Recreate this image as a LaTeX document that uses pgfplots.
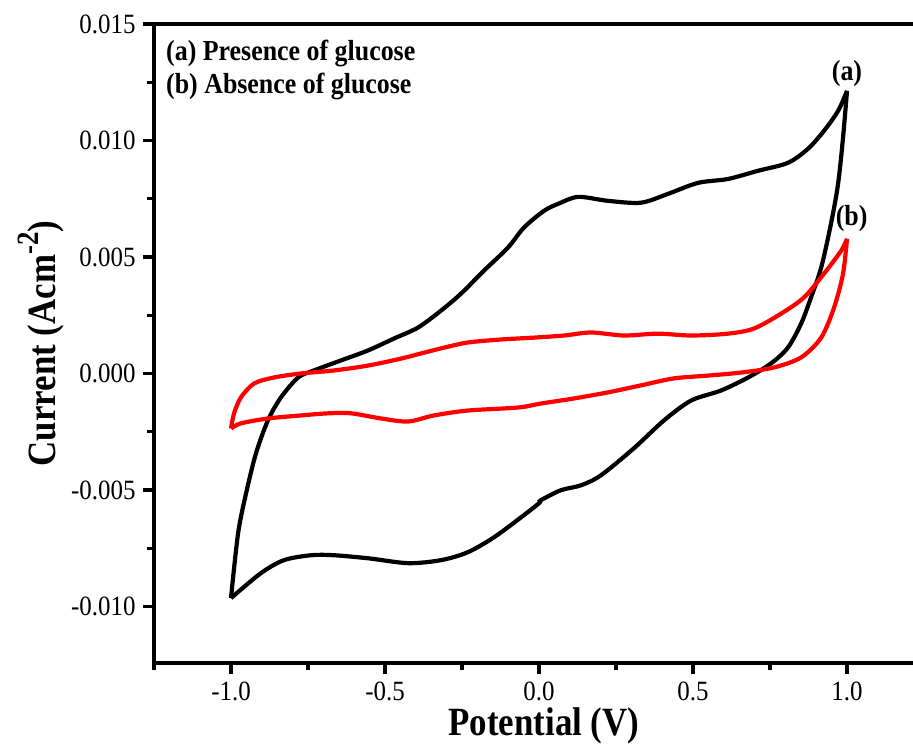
\documentclass[border=0pt]{standalone}
\usepackage{fontspec}
\setmainfont{Liberation Serif}
\usepackage{graphicx}
\usepackage{pgfplots}
\pgfplotsset{compat=1.18}
\newcommand{\tl}[1]{\scalebox{1}[1.12]{#1}}

\begin{document}
\begin{tikzpicture}
\begin{axis}[
  name=ax,
  scale only axis, width=760bp, height=639bp,
  xmin=-1.25, xmax=1.2175, ymin=-0.012425, ymax=0.015,
  axis x line*=bottom, axis y line*=left,
  axis line style={line width=4bp, line cap=rect},
  tick align=outside,
  major tick length=11bp, minor tick length=7bp,
  tick style={black, line width=3.2bp},
  xtick={-1,-0.5,0,0.5,1},
  xticklabels={\tl{-1.0},\tl{-0.5},\tl{0.0},\tl{0.5},\tl{1.0}},
  minor xtick={-1.25,-0.75,-0.25,0.25,0.75},
  ytick={-0.010,-0.005,0,0.005,0.010,0.015},
  yticklabels={\tl{-0.010},\tl{-0.005},\tl{0.000},\tl{0.005},\tl{0.010},\tl{0.015}},
  minor ytick={-0.0075,-0.0025,0.0025,0.0075,0.0125},
  scaled ticks=false,
  tick label style={font=\fontsize{25}{30}\selectfont},
  yticklabel style={xshift=-4bp},
  xticklabel style={yshift=-4bp},
  xlabel={\scalebox{1}[1.15]{\textbf{Potential (V)}}},
  ylabel={\scalebox{1}[1.15]{\textbf{Current (Acm\raisebox{0.42em}{\fontsize{27}{30}\selectfont -2})}}},
  xlabel style={xshift=10bp},
  label style={font=\fontsize{35}{40}\selectfont},
  clip=false,
]
% (a) presence of glucose: forward sweep
\addplot[black, line width=4.2bp, smooth] coordinates {
(-1.000,-0.00964) (-0.977,-0.00686) (-0.951,-0.00514) (-0.919,-0.00343)
(-0.880,-0.00201) (-0.838,-0.00103) (-0.782,-0.00017) (-0.731,0.00013)
(-0.643,0.00056) (-0.555,0.00099) (-0.471,0.00150) (-0.393,0.00197)
(-0.318,0.00270) (-0.253,0.00343) (-0.179,0.00441) (-0.101,0.00540)
(-0.049,0.00626) (0.016,0.00698) (0.062,0.00728) (0.127,0.00758)
(0.224,0.00741) (0.331,0.00733) (0.419,0.00771) (0.516,0.00818)
(0.614,0.00835) (0.711,0.00870) (0.808,0.00904) (0.873,0.00964)
(0.925,0.01041) (0.971,0.01127) (1.000,0.01213)
};
% (a) reverse sweep
\addplot[black, line width=4.2bp, smooth] coordinates {
(1.000,0.01213) (0.987,0.01011) (0.971,0.00814) (0.948,0.00643)
(0.916,0.00454) (0.883,0.00326) (0.851,0.00214) (0.808,0.00111)
(0.753,0.00043) (0.679,-0.00017) (0.591,-0.00073) (0.494,-0.00116)
(0.406,-0.00201) (0.308,-0.00321) (0.201,-0.00437) (0.136,-0.00480)
(0.071,-0.00501) (0.006,-0.00544) (0.000,-0.00557) (-0.058,-0.00617)
(-0.146,-0.00703) (-0.231,-0.00767) (-0.318,-0.00801) (-0.425,-0.00814)
(-0.555,-0.00793) (-0.666,-0.00780) (-0.740,-0.00780) (-0.828,-0.00801)
(-0.903,-0.00857) (-1.000,-0.00964)
};
% (b) absence of glucose: forward sweep
\addplot[red, line width=4.2bp, smooth] coordinates {
(-1.000,-0.00236) (-0.990,-0.00171) (-0.968,-0.00103) (-0.925,-0.00043)
(-0.860,-0.00017) (-0.773,0.00000) (-0.666,0.00013) (-0.555,0.00034)
(-0.448,0.00064) (-0.383,0.00086) (-0.308,0.00111) (-0.231,0.00133)
(-0.123,0.00146) (-0.016,0.00154) (0.081,0.00163) (0.169,0.00176)
(0.276,0.00163) (0.386,0.00171) (0.494,0.00163) (0.614,0.00171)
(0.698,0.00193) (0.786,0.00257) (0.860,0.00326) (0.925,0.00428)
(0.981,0.00527) (1.000,0.00578)
};
% (b) reverse sweep
\addplot[red, line width=4.2bp, smooth] coordinates {
(1.000,0.00578) (0.987,0.00428) (0.958,0.00283) (0.916,0.00154)
(0.851,0.00069) (0.763,0.00026) (0.656,0.00004) (0.549,-0.00009)
(0.438,-0.00021) (0.331,-0.00051) (0.224,-0.00081) (0.114,-0.00107)
(0.006,-0.00129) (-0.068,-0.00146) (-0.231,-0.00159) (-0.341,-0.00180)
(-0.425,-0.00206) (-0.513,-0.00193) (-0.610,-0.00171) (-0.685,-0.00171)
(-0.773,-0.00180) (-0.880,-0.00193) (-0.968,-0.00214) (-1.000,-0.00236)
};
% top frame line
\draw[line width=4bp, line cap=rect] (rel axis cs:0,1) -- (rel axis cs:1,1);
% curve labels
\node[anchor=south, font=\fontsize{26}{30}\selectfont\bfseries, inner sep=2bp]
  at (axis cs:1.0,0.01213) [yshift=2bp] {\scalebox{1}[1.12]{(a)}};
\node[anchor=south, font=\fontsize{26}{30}\selectfont\bfseries, inner sep=2bp]
  at (axis cs:1.015,0.00578) [yshift=5bp] {\scalebox{1}[1.12]{(b)}};
% key text
\node[anchor=north west, align=left, inner sep=0pt,
  font=\fontsize{26}{33}\selectfont\bfseries]
  at (rel axis cs:0,1) [xshift=12bp, yshift=-16bp]
  {\scalebox{1}[1.12]{(a) Presence of glucose}\\\scalebox{1}[1.12]{(b) Absence of glucose}};
\end{axis}
\pgfresetboundingbox
\useasboundingbox (-154bp,-88bp) rectangle (759bp,663bp);
\end{tikzpicture}
\end{document}
